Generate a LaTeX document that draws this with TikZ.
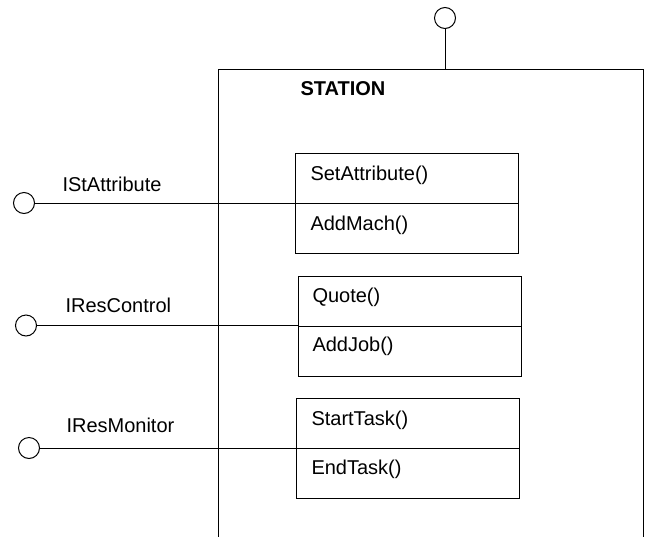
\documentclass[tikz,border=0pt]{standalone}
\usepackage{fontspec}
\setmainfont{Liberation Sans}
\begin{document}
\begin{tikzpicture}[x=1pt,y=-1pt,line width=1pt,
  txt/.style={anchor=base west,inner sep=0pt,font=\fontsize{20}{24}\selectfont},
  ball/.style={circle,draw,minimum size=21pt,inner sep=0pt,fill=white},
  part/.style={draw,anchor=north west,inner sep=0pt,minimum width=223pt,minimum height=50pt}
]
\useasboundingbox (0,0) rectangle (647,536);

% component frame, open towards the bottom
\coordinate (stl) at (218.5,69);
\coordinate (str) at (643,69);
\coordinate (stp) at (445,69);
\draw (218.5,540) -- (stl) -- (str) -- (643,540);
\node[txt,font=\fontsize{20}{24}\selectfont\bfseries] (stname) at (300,95) {STATION};

% provided interface on top
\node[ball] (ctop) at (445,18) {};
\draw (ctop) -- (stp);

% operation boxes
\node[part] (sa) at (295,153) {};
\node[part] (am) at (295,203) {};
\node[part] (qu) at (298,276) {};
\node[part] (aj) at (298,325.5) {};
\node[part] (st) at (296,398) {};
\node[part] (et) at (296,448) {};

\node[txt] (tsa) at (310,180.5) {SetAttribute()};
\node[txt] (tam) at (310,230.5) {AddMach()};
\node[txt] (tqu) at (312,302) {Quote()};
\node[txt] (taj) at (312,351.5) {AddJob()};
\node[txt] (tst) at (311,425.5) {StartTask()};
\node[txt] (tet) at (311,474) {EndTask()};

% interface lollipops on the left
\node[ball] (c1) at (24,203) {};
\node[ball] (c2) at (26,325.5) {};
\node[ball] (c3) at (29,448) {};
\draw (c1) -- (am.north west);
\draw (c2) -- (aj.north west);
\draw (c3) -- (et.north west);

\node[txt] (i1) at (62,191.5) {IStAttribute};
\node[txt] (i2) at (65,312.5) {IResControl};
\node[txt] (i3) at (66,432.5) {IResMonitor};
\end{tikzpicture}
\end{document}
